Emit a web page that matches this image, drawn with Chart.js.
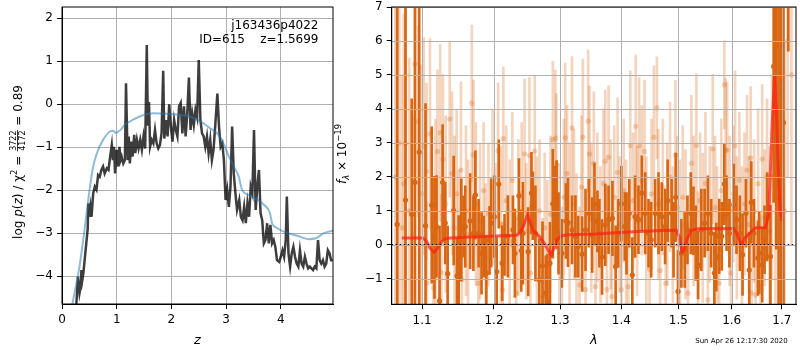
<!DOCTYPE html>
<html>
<head>
<meta charset="utf-8">
<script src="https://cdn.jsdelivr.net/npm/chart.js@4/dist/chart.umd.min.js"></script>
<style>
  html, body { margin: 0; padding: 0; background: #fff; }
  #wrap { position: relative; width: 800px; height: 350px; overflow: hidden; }
  canvas { position: absolute; top: 0; }
  #pz { left: 0; }
  #sp { left: 330px; }
</style>
</head>
<body>
<div id="wrap">
  <canvas id="pz" width="340" height="350"></canvas>
  <canvas id="sp" width="470" height="350"></canvas>
</div>
<script>
// ---------- redshift probability panel ----------
const zRange = [0, 4.954];
const logpRange = [-4.65, 2.263];
const zTicks = [0, 1, 2, 3, 4];
const logpTicks = [-4, -3, -2, -1, 0, 1, 2];

// log p(z) from the template fit
const zGrid = [0.26,0.29,0.32,0.34,0.355,0.37,0.39,0.42,0.45,0.47,0.48,0.50,0.52,0.54,0.57,0.60,0.63,0.66,0.69,0.72,0.75,0.78,0.82,0.85,0.88,0.91,0.93,0.95,0.97,1.00,1.03,1.05,1.07,1.09,1.12,1.15,1.17,1.20,1.22,1.24,1.27,1.29,1.32,1.34,1.37,1.40,1.43,1.46,1.49,1.52,1.55,1.57,1.59,1.61,1.64,1.67,1.70,1.73,1.76,1.79,1.82,1.85,1.87,1.90,1.93,1.96,1.99,2.02,2.05,2.08,2.11,2.14,2.17,2.20,2.23,2.26,2.29,2.32,2.35,2.38,2.41,2.44,2.47,2.50,2.53,2.56,2.59,2.62,2.65,2.68,2.71,2.74,2.77,2.80,2.84,2.87,2.90,2.93,2.96,2.99,3.02,3.05,3.08,3.11,3.14,3.17,3.20,3.24,3.27,3.30,3.33,3.36,3.39,3.42,3.45,3.48,3.51,3.54,3.57,3.60,3.63,3.66,3.69,3.72,3.75,3.78,3.81,3.84,3.87,3.90,3.93,3.97,4.00,4.03,4.06,4.09,4.11,4.14,4.17,4.20,4.23,4.26,4.29,4.32,4.35,4.38,4.41,4.44,4.47,4.50,4.53,4.56,4.59,4.62,4.65,4.68,4.71,4.74,4.77,4.80,4.83,4.86,4.89,4.92,4.95];
const logPz = [-4.72,-4.02,-4.4,-4.25,-3.86,-4.1,-3.94,-3.55,-3.16,-2.9,-2.31,-2.62,-2.39,-2.62,-2.07,-1.92,-1.99,-1.65,-1.69,-1.53,-1.45,-1.61,-1.49,-1.53,-1.22,-0.95,-1.30,-0.99,-1.61,-1.06,-1.45,-0.99,-1.30,-1.22,-1.38,-1.30,0.49,-1.30,-0.75,-1.38,-0.87,-1.22,-0.71,-1.14,-0.83,-1.03,-0.83,-1.06,-0.75,-1.03,1.38,-0.5,0.05,-0.99,-0.83,-0.91,-0.6,-0.91,-1.03,-0.95,-0.68,0.78,-0.8,-0.37,-0.75,0.0,-0.52,-0.87,-0.37,-0.60,-0.75,-0.05,0.03,-0.68,-0.05,-0.75,-0.21,0.62,-0.60,-0.21,-0.48,-0.13,-0.3,1.03,-0.37,-0.68,-0.75,-0.99,-0.75,-1.14,-0.83,-1.30,-1.06,-0.52,0.25,-0.52,-0.99,-0.91,-1.30,-2.23,-1.99,-2.39,-1.92,-0.52,-1.61,-2.07,-2.46,-2.23,-2.62,-2.70,-2.39,-2.77,-2.31,-2.62,-1.92,-2.07,-0.60,-2.46,-1.92,-1.53,-2.54,-2.70,-3.24,-3.16,-2.77,-3.24,-2.81,-3.24,-3.16,-3.32,-3.63,-3.67,-3.55,-3.40,-3.55,-3.16,-2.15,-3.47,-3.78,-3.47,-3.32,-3.55,-3.71,-3.78,-3.40,-3.71,-3.78,-3.55,-3.71,-3.82,-3.78,-3.82,-3.86,-3.78,-3.82,-3.16,-3.63,-3.71,-3.63,-3.78,-3.71,-3.40,-3.47,-3.63,-3.63];

// smooth reference curve
const zSmooth = [0.17,0.19,0.32,0.42,0.50,0.57,0.65,0.75,0.87,0.94,0.98,1.06,1.15,1.30,1.49,1.67,1.91,2.16,2.34,2.53,2.71,2.86,2.95,3.05,3.14,3.23,3.29,3.41,3.57,3.69,3.80,3.84,3.93,4.12,4.30,4.51,4.64,4.79,4.97];
const logpSmooth = [-4.8,-4.65,-3.78,-2.84,-2.03,-1.45,-1.10,-0.83,-0.64,-0.62,-0.67,-0.61,-0.48,-0.36,-0.25,-0.21,-0.22,-0.25,-0.29,-0.40,-0.56,-0.71,-0.91,-1.22,-1.45,-1.68,-1.99,-2.11,-2.22,-2.34,-2.53,-2.77,-2.88,-3.0,-3.06,-3.14,-3.12,-3.0,-2.94];

// ---------- spectrum panel ----------
const lamRange = [1.0603, 1.7295];
const fluxRange = [-1.75, 7];
const lamTicks = [1.1, 1.2, 1.3, 1.4, 1.5, 1.6, 1.7];
const fluxTicks = [-1, 0, 1, 2, 3, 4, 5, 6, 7];

// primary extraction
const lamA = [1.0674,1.0782,1.0863,1.0906,1.0962,1.1046,1.1129,1.1166,1.1194,1.1235,1.1277,1.1313,1.1346,1.1429,1.1475,1.1498,1.1535,1.1567,1.159,1.1659,1.1705,1.1733,1.1779,1.1821,1.1853,1.189,1.1936,1.1959,1.2005,1.204,1.207,1.212,1.2154,1.2204,1.2279,1.2308,1.2368,1.2403,1.2428,1.2507,1.2557,1.2577,1.2617,1.2677,1.2726,1.2776,1.2801,1.2841,1.2886,1.2915,1.2945,1.2975,1.3027,1.3092,1.3124,1.3189,1.3243,1.3287,1.3352,1.3406,1.346,1.3514,1.3552,1.3601,1.3633,1.3677,1.3731,1.3785,1.385,1.3904,1.3947,1.4,1.4059,1.4088,1.4135,1.4187,1.4234,1.4293,1.4351,1.441,1.4468,1.4515,1.4585,1.4644,1.4702,1.4761,1.4807,1.4878,1.4913,1.4953,1.4994,1.5055,1.5116,1.5166,1.5227,1.5276,1.5319,1.5362,1.5423,1.5484,1.5546,1.5607,1.5668,1.5705,1.576,1.5809,1.5858,1.5901,1.5956,1.604,1.6093,1.6159,1.6212,1.6278,1.6344,1.6384,1.6437,1.6516,1.6543,1.6602,1.6649,1.6702,1.6768,1.6834,1.6887,1.6934,1.699,1.7035,1.7135];
const fluxA = [0.6,1.32,0.9,1.84,2.73,0.56,1.17,0.22,0.54,-1.65,1.84,0.64,-0.85,1.01,-0.91,-0.44,0.44,0.54,0.54,0.70,0.34,1.47,0.34,-0.25,-0.05,-0.83,0.13,0.64,0.83,-0.79,1.79,-0.54,0.0,0.25,0.44,-0.25,1.44,-0.17,0.34,-0.2,1.52,1.15,0.34,-1.03,-0.62,-1.42,-1.67,-0.54,1.21,1.21,1.18,0.34,-0.25,0.70,0.66,0.44,0.25,-0.05,-0.27,0.44,0.93,0.29,1.21,0.69,0.34,-0.36,0.59,0.74,0.78,-0.64,0.34,1.21,0.54,0.34,0.93,-0.89,0.83,0.74,1.52,0.93,0.34,0.15,0.93,0.93,0.83,0.54,1.30,0.93,0.15,1.40,-1.37,-0.25,-0.15,0.44,0.93,0.71,0.05,-0.59,0.44,0.64,0.93,0.34,-0.83,-0.36,0.25,0.25,1.79,0.93,0.34,1.18,0.74,0.34,-0.29,0.93,-0.74,1.25,0.34,-0.39,-0.24,-0.59,0.15,0.83,-0.34,5.25,5.87,1.37,5.07,3.6,9.5];
const errA = [9,9,3.4,5.2,4.5,3.6,2.3,1.8,1.5,2.2,1.7,1.2,1.4,1.6,1.1,1.3,1.5,0.9,1.2,1.4,1.1,1.3,1.0,1.2,0.9,1.1,1.0,1.3,1.2,1.0,1.3,1.1,0.9,1.2,1.0,1.3,1.1,1.2,1.5,1.3,1.2,1.0,1.4,1.2,1.3,1.1,1.4,1.2,1.6,1.1,1.3,1.2,1.0,1.1,1.3,1.0,1.2,0.9,1.1,1.2,1.0,1.1,1.2,0.9,1.0,1.1,1.2,1.0,1.1,1.2,1.0,1.1,1.0,1.2,1.0,1.1,1.2,1.0,1.1,1.2,1.0,1.1,1.0,1.2,1.0,1.1,1.2,1.0,1.1,1.3,1.2,1.0,1.1,1.0,1.2,1.0,1.1,1.0,1.2,1.0,1.1,1.0,1.2,1.0,1.1,1.0,1.2,1.1,1.0,1.2,1.0,1.1,1.2,1.0,1.1,1.2,1.0,1.1,1.2,1.1,1.0,1.3,1.5,4,6,6,9,9,3.8];

// secondary extraction (drawn faint)
const lamB = [1.0650,1.0700,1.0735,1.0760,1.0780,1.0830,1.0880,1.0906,1.0949,1.0990,1.1023,1.1060,1.1065,1.1106,1.1152,1.1180,1.1207,1.1244,1.1260,1.1281,1.1320,1.1374,1.1406,1.1440,1.1470,1.1500,1.1530,1.1544,1.1600,1.1630,1.1682,1.1705,1.1740,1.1774,1.1800,1.1850,1.1880,1.1920,1.1980,1.2020,1.2060,1.2100,1.2127,1.2137,1.2180,1.2230,1.2270,1.2328,1.2360,1.2410,1.2453,1.2480,1.2527,1.2540,1.2607,1.2640,1.2680,1.2726,1.2760,1.2800,1.2850,1.2886,1.2925,1.2940,1.2990,1.3027,1.3060,1.3081,1.3110,1.3150,1.3189,1.3220,1.3260,1.3308,1.3340,1.3363,1.3406,1.3449,1.3470,1.3500,1.3541,1.3568,1.3600,1.3650,1.3700,1.3731,1.3758,1.3785,1.3820,1.3839,1.3880,1.3936,1.3970,1.4000,1.4040,1.4080,1.4117,1.4153,1.4200,1.4246,1.4270,1.4304,1.4350,1.4398,1.4430,1.4486,1.4520,1.4562,1.4615,1.4640,1.4673,1.4720,1.4772,1.4800,1.4850,1.4900,1.4947,1.4980,1.5030,1.5080,1.5130,1.5178,1.5239,1.5280,1.5331,1.5362,1.5400,1.5450,1.5500,1.5546,1.5580,1.5638,1.5680,1.5720,1.5760,1.5800,1.5858,1.5883,1.5913,1.5960,1.5987,1.6030,1.6066,1.6100,1.6150,1.6200,1.6250,1.6300,1.6340,1.6371,1.6390,1.6440,1.6470,1.6520,1.6569,1.6602,1.6650,1.6700,1.6750,1.6800,1.6870,1.6950,1.7000,1.7060,1.7120,1.7200];
const fluxB = [2.0,3.0,0.5,1.8,2.98,1.0,0.3,5.32,3.63,1.5,2.9,2.16,-1.13,3.27,-1.27,0.8,2.75,3.3,-0.81,2.52,1.2,3.70,2.10,0.5,1.5,-0.2,2.20,-1.03,1.0,0.3,4.17,2.65,1.2,-1.13,0.7,1.6,-0.4,0.9,1.7,0.2,2.77,0.6,-1.32,3.13,1.3,0.1,1.9,-1.42,0.8,1.5,2.68,0.4,2.63,-0.83,2.76,0.2,1.0,-1.52,0.5,-0.6,0.9,3.10,3.14,2.35,0.2,-0.98,1.4,3.15,2.1,0.6,3.44,1.2,0.0,-1.18,1.7,3.17,-1.32,3.64,2.67,0.8,2.40,-1.23,1.1,0.3,1.8,2.46,-1.32,2.58,0.9,-1.52,1.4,2.13,0.6,-1.32,1.6,0.2,-1.23,2.92,1.3,3.49,0.7,2.92,1.9,2.75,0.4,-0.72,1.5,3.17,4.03,1.2,-0.76,1.7,-1.13,0.9,2.0,0.3,2.64,1.1,0.2,1.4,0.6,-1.42,2.40,1.0,2.93,-0.64,1.3,0.5,1.8,-1.62,0.9,2.82,1.1,0.3,-1.13,1.6,4.71,2.79,2.79,1.0,-0.83,1.5,2.92,0.5,1.9,0.1,1.2,2.2,0.6,2.56,-1.42,1.0,-1.47,1.8,-1.23,2.52,0.8,2.0,0.4,2.0,3.0,4.0,2.0,1.0,6.0,5.0];
const errB = [9,5,4.5,5,4.2,4.5,3.5,3.2,2.8,3.8,3.2,2.6,2.4,2.8,2.2,2.9,2.4,2.6,2.3,2.5,2.6,2.3,2.4,2.7,2.5,2.4,2.6,2.2,2.5,2.2,2.3,2.2,2.4,2.1,2.3,2.0,2.2,2.1,2.3,2.2,2.0,2.3,2.0,2.1,2.2,2.4,2.0,2.2,2.3,2.1,2.2,2.0,2.3,2.1,2.2,2.4,2.1,2.3,2.2,2.5,2.3,2.3,2.0,2.1,2.2,2.1,2.3,2.2,2.0,2.4,2.1,2.2,2.1,2.3,2.1,2.3,2.2,2.1,2.0,2.2,2.1,2.3,2.2,2.0,2.2,2.1,2.3,2.1,2.2,2.0,2.1,2.2,2.0,2.2,2.1,2.3,2.1,2.2,2.0,2.1,2.2,2.0,2.2,2.1,2.2,2.0,2.2,2.1,1.5,2.2,2.1,2.0,2.2,2.1,2.2,2.0,2.2,2.1,2.3,2.1,2.2,2.1,2.0,2.2,2.1,2.2,2.0,2.2,2.1,2.2,2.0,2.2,2.1,2.0,2.2,2.1,1.3,2.1,2.0,2.2,2.1,2.0,2.2,2.1,2.0,2.2,2.1,2.2,2.0,2.1,2.2,2.1,2.0,2.2,2.1,2.2,2.0,2.3,2.5,3,6,6,5,5,4,5];

// best-fit template
const lamModel = [1.0735,1.1014,1.106,1.1106,1.1161,1.1207,1.1267,1.1313,1.1383,1.1659,1.203,1.2328,1.2388,1.2453,1.2497,1.2537,1.2587,1.2677,1.2751,1.2826,1.2861,1.2901,1.295,1.3027,1.3135,1.3568,1.4117,1.4702,1.4965,1.5025,1.5067,1.5104,1.5166,1.5239,1.5362,1.604,1.6106,1.6172,1.6205,1.6252,1.6357,1.647,1.6668,1.6735,1.6801,1.6854,1.6887,1.6934,1.6967,1.7007];
const fluxModel = [0.2,0.2,0.1,-0.1,-0.22,-0.1,0.1,0.18,0.2,0.23,0.26,0.28,0.35,0.65,0.9,0.65,0.4,0.25,0.05,-0.2,-0.3,-0.1,0.15,0.27,0.3,0.32,0.38,0.42,0.43,0.2,-0.2,-0.15,0.2,0.43,0.47,0.48,0.3,0.05,0.0,0.2,0.35,0.5,0.5,0.9,3.5,5.0,4.0,2.0,1.0,0.7];

// ---------- styling helpers ----------
const FONT = '"DejaVu Sans", "Liberation Sans", sans-serif';
Chart.defaults.font.family = FONT;
Chart.defaults.font.size = 12;
Chart.defaults.color = '#000';

const ORANGE = 'rgb(217,102,18)';
const ORANGE_FAINT = 'rgba(217,102,18,0.28)';
const GRID = '#b0b0b0';

const minus = s => String(s).replace('-', '\u2212');
const pts = (xs, ys) => xs.map((x, i) => ({ x: x, y: ys[i] }));

// fixed axis box size; label overhang must not push the plot area around
const fixBox = (w, h) => s => {
  if (w !== null) s.width = w;
  if (h !== null) s.height = h;
  s.paddingTop = 0; s.paddingBottom = 0; s.paddingLeft = 0; s.paddingRight = 0;
};

function axis(range, ticks, fmt, extra, gridOnTop) {
  return Object.assign({
    min: range[0], max: range[1],
    offset: false,
    afterBuildTicks: s => { s.ticks = ticks.map(v => ({ value: v })); },
    grid: { color: GRID, lineWidth: 1, tickColor: '#000', tickLength: 5, offset: false,
            drawOnChartArea: !gridOnTop },
    border: { display: true, color: '#000', width: 1 },
    ticks: { color: '#000', font: { size: 12 }, padding: 4, maxRotation: 0, autoSkip: false,
             callback: v => fmt(v) }
  }, extra);
}

// draws a row of text runs (with optional stacked fraction) centred on a point
function drawRuns(ctx, runs, x, y, angle) {
  ctx.save();
  ctx.translate(x, y);
  ctx.rotate(angle);
  let total = 0;
  runs.forEach(r => {
    ctx.font = r.font;
    r.w = r.frac
      ? Math.max(ctx.measureText(r.frac[0]).width, ctx.measureText(r.frac[1]).width) + 2
      : ctx.measureText(r.t).width;
    total += r.w;
  });
  let cx = -total / 2;
  ctx.fillStyle = '#000';
  ctx.textBaseline = 'alphabetic';
  runs.forEach(r => {
    ctx.font = r.font;
    if (r.frac) {
      ctx.textAlign = 'center';
      ctx.fillText(r.frac[0], cx + r.w / 2, -5.5);
      ctx.fillText(r.frac[1], cx + r.w / 2, 3.5);
      ctx.fillRect(cx + 0.5, -4.4, r.w - 1, 0.8);
      ctx.textAlign = 'left';
    } else {
      ctx.textAlign = 'left';
      ctx.fillText(r.t, cx, r.dy || 0);
    }
    cx += r.w;
  });
  ctx.restore();
}

const frame = {
  id: 'frame',
  afterDraw(chart) {
    const a = chart.chartArea, ctx = chart.ctx;
    ctx.save();
    ctx.strokeStyle = '#000';
    ctx.lineWidth = 1;
    ctx.strokeRect(a.left, a.top, a.right - a.left, a.bottom - a.top);
    ctx.restore();
  }
};

// grid lines painted over the plotted data
const gridOver = {
  id: 'gridOver',
  afterDatasetsDraw(chart) {
    const a = chart.chartArea, ctx = chart.ctx, sx = chart.scales.x, sy = chart.scales.y;
    ctx.save();
    ctx.strokeStyle = GRID;
    ctx.lineWidth = 1;
    ctx.beginPath();
    sx.ticks.forEach(t => {
      const p = Math.round(sx.getPixelForValue(t.value)) + 0.5;
      ctx.moveTo(p, a.top); ctx.lineTo(p, a.bottom);
    });
    sy.ticks.forEach(t => {
      const p = Math.round(sy.getPixelForValue(t.value)) + 0.5;
      ctx.moveTo(a.left, p); ctx.lineTo(a.right, p);
    });
    ctx.stroke();
    ctx.restore();
  }
};

const R = '12px ' + FONT, I = 'italic 12px ' + FONT, S = '8.5px ' + FONT, SI = 'italic 8.5px ' + FONT, F = '8px ' + FONT;

const pzText = {
  id: 'pzText',
  afterDraw(chart) {
    const ctx = chart.ctx;
    ctx.save();
    ctx.fillStyle = '#000';
    ctx.font = R;
    ctx.textAlign = 'right';
    ctx.textBaseline = 'alphabetic';
    ctx.fillText('j163436p4022', 318.5, 28.5);
    ctx.fillText('ID=615    z=1.5699', 318.5, 43);
    ctx.font = 'italic 13px ' + FONT;
    ctx.textAlign = 'center';
    ctx.fillText('z', (chart.chartArea.left + chart.chartArea.right) / 2, 344);
    ctx.restore();
    drawRuns(ctx, [
      { t: 'log ', font: R }, { t: 'p', font: I }, { t: '(', font: R }, { t: 'z', font: I },
      { t: ') / \u03c7', font: R }, { t: '2', font: S, dy: -5 }, { t: ' = ', font: R },
      { frac: ['3722', '4172'], font: F }, { t: ' = 0.89', font: R }
    ], 21.5, 162, -Math.PI / 2);
  }
};

const spText = {
  id: 'spText',
  afterDraw(chart) {
    const ctx = chart.ctx;
    ctx.save();
    ctx.fillStyle = '#000';
    ctx.font = 'italic 13px ' + FONT;
    ctx.textAlign = 'center';
    ctx.textBaseline = 'alphabetic';
    ctx.fillText('\u03bb', (chart.chartArea.left + chart.chartArea.right) / 2, 344);
    ctx.font = '7px ' + FONT;
    ctx.textAlign = 'right';
    ctx.fillText('Sun Apr 26 12:17:30 2020', 457.7, 343);
    ctx.restore();
    drawRuns(ctx, [
      { t: 'f', font: I }, { t: '\u03bb', font: SI, dy: 3 }, { t: ' \u00d7 10', font: R },
      { t: '\u221219', font: S, dy: -5 }
    ], 15.5, 154, -Math.PI / 2);
  }
};

const common = {
  responsive: false,
  devicePixelRatio: 1,
  animation: false,
  events: [],
  plugins: { legend: { display: false }, tooltip: { enabled: false } }
};

// ---------- left chart ----------
new Chart(document.getElementById('pz'), {
  type: 'scatter',
  data: {
    datasets: [
      { data: pts(zSmooth, logpSmooth), showLine: true, borderColor: 'rgba(31,119,180,0.5)',
        borderWidth: 2, pointRadius: 0, cubicInterpolationMode: 'monotone', clip: 0, order: 0 },
      { data: pts(zGrid, logPz), showLine: true, borderColor: 'rgba(0,0,0,0.76)',
        borderWidth: 2.5, pointRadius: 0, clip: 0, order: 1 }
    ]
  },
  options: Object.assign({}, common, {
    layout: { padding: { top: 7, right: 7, left: 0, bottom: 0 } },
    scales: {
      x: axis(zRange, zTicks, v => String(v), { type: 'linear', afterFit: fixBox(null, 46) }),
      y: axis(logpRange, logpTicks, minus, { type: 'linear', afterFit: fixBox(62, null) })
    }
  }),
  plugins: [frame, pzText]
});

// ---------- right chart ----------
const barData = [], barColors = [];
lamB.forEach((l, i) => { barData.push({ x: l, y: [fluxB[i] - errB[i], fluxB[i] + errB[i]] }); barColors.push(ORANGE_FAINT); });
lamA.forEach((l, i) => { barData.push({ x: l, y: [fluxA[i] - errA[i], fluxA[i] + errA[i]] }); barColors.push(ORANGE); });

new Chart(document.getElementById('sp'), {
  type: 'scatter',
  data: {
    datasets: [
      { type: 'bar', data: barData, backgroundColor: barColors, barThickness: 2,
        borderWidth: 0, clip: 0, order: 5 },
      { data: pts(lamB, fluxB), pointRadius: 2.6, pointBackgroundColor: ORANGE_FAINT,
        backgroundColor: ORANGE_FAINT, pointBorderWidth: 0, borderWidth: 0, clip: 0, order: 4 },
      { data: pts(lamA, fluxA), pointRadius: 2.6, pointBackgroundColor: ORANGE,
        backgroundColor: ORANGE, pointBorderWidth: 0, borderWidth: 0, clip: 0, order: 3 },
      { data: pts(lamModel, fluxModel), showLine: true, borderColor: 'rgba(255,30,20,0.72)',
        borderWidth: 3, pointRadius: 0, clip: 0, order: 1 },
      { data: lamRange.map(l => ({ x: l, y: 0 })), showLine: true, borderColor: '#000',
        borderWidth: 1.5, borderDash: [1.5, 2.5], pointRadius: 0, clip: 0, order: 0 }
    ]
  },
  options: Object.assign({}, common, {
    layout: { padding: { top: 7, right: 0.7, left: 0, bottom: 0 } },
    scales: {
      x: axis(lamRange, lamTicks, v => Number(v).toFixed(1),
              { type: 'logarithmic', afterFit: fixBox(null, 45.7) }, true),
      y: axis(fluxRange, fluxTicks, minus,
              { type: 'linear', stacked: false, afterFit: fixBox(61.7, null) }, true)
    }
  }),
  plugins: [gridOver, frame, spText]
});
</script>
</body>
</html>
